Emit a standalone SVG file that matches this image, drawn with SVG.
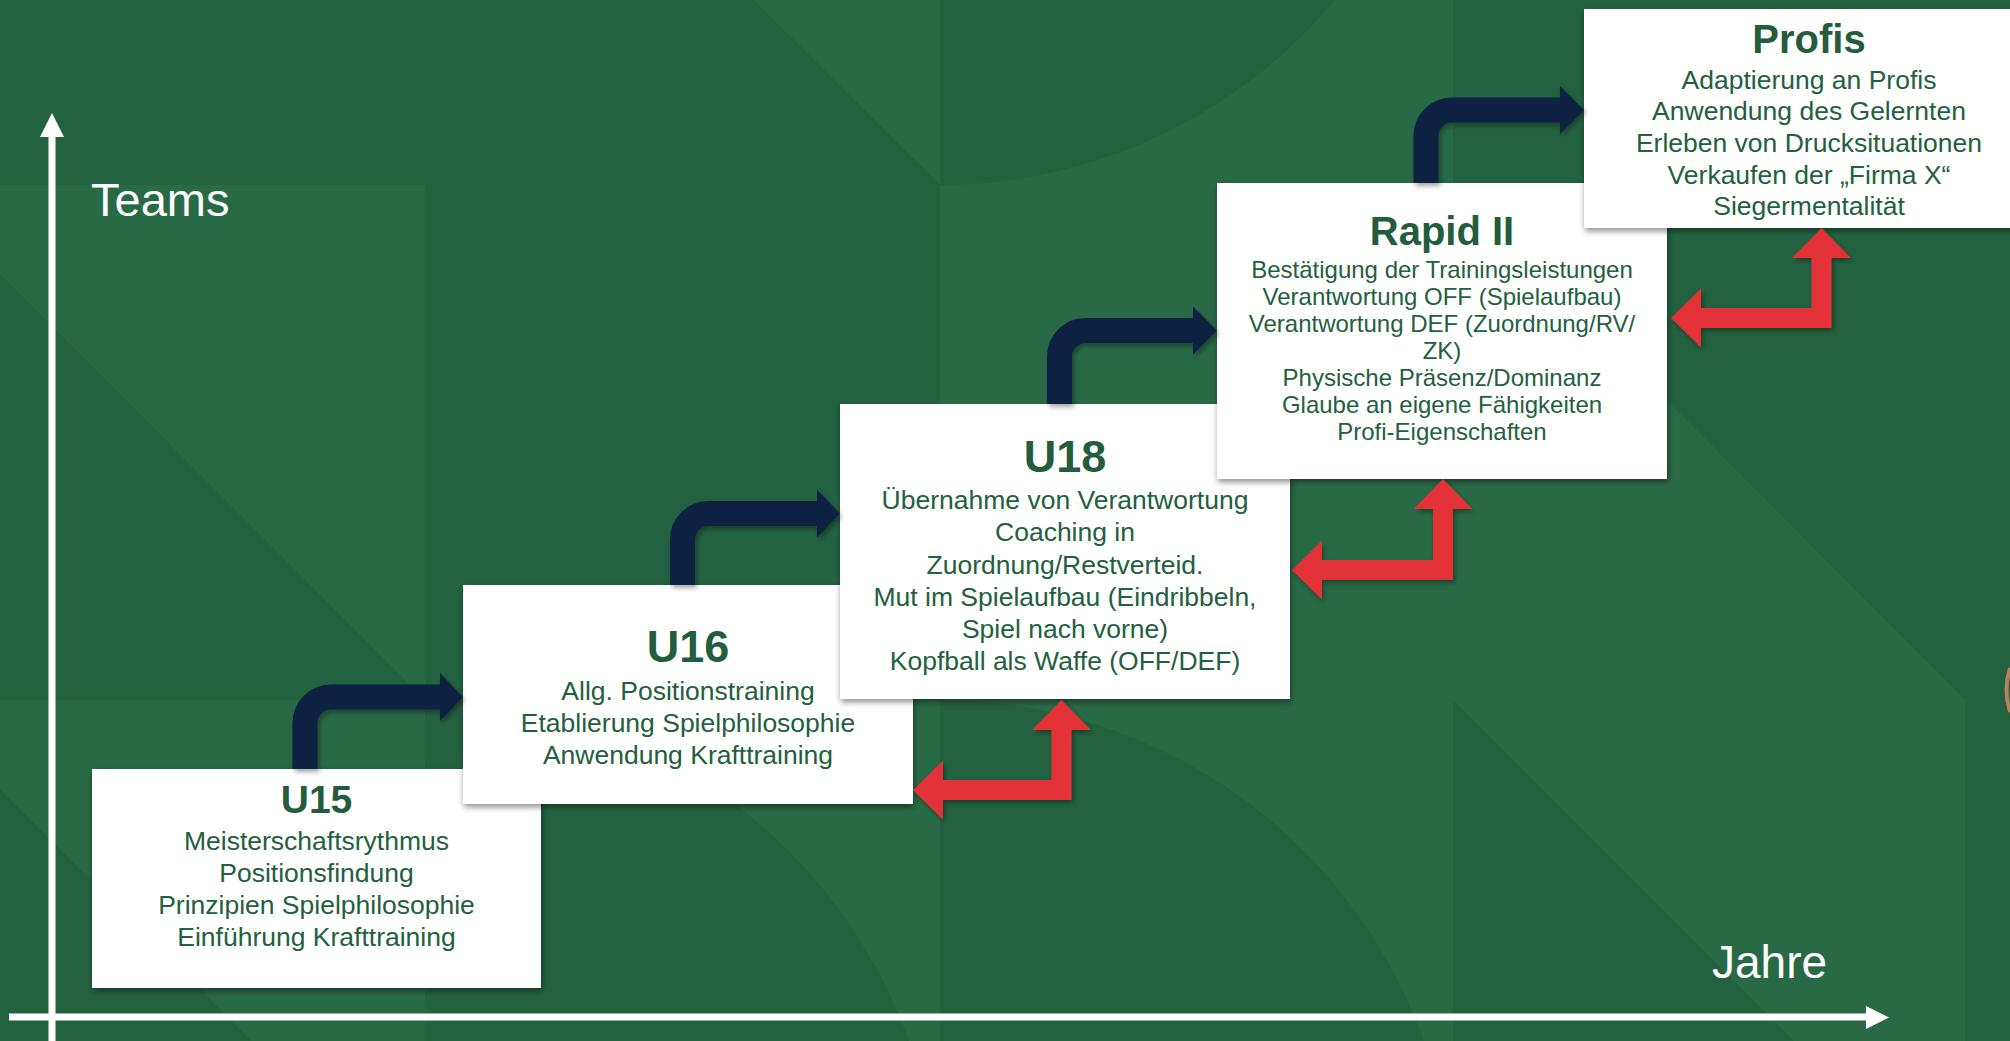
<svg xmlns="http://www.w3.org/2000/svg" width="2010" height="1041" viewBox="0 0 2010 1041">
<defs>
<style>
.bgl{fill:#296a46}
.bgd{fill:#236240}
.box{fill:#ffffff}
.title{font-family:"Liberation Sans",Arial,sans-serif;font-weight:bold;fill:#235d3d;text-anchor:middle}
.body{font-family:"Liberation Sans",Arial,sans-serif;fill:#22603e;text-anchor:middle}
.axis{stroke:#ffffff;stroke-width:7;fill:none}
.axlabel{font-family:"Liberation Sans",Arial,sans-serif;fill:#ffffff;font-size:46px}
.blue{stroke:#0b2343;stroke-width:25;fill:none}
.bluehead{fill:#0b2343}
.red{fill:#e23237}
</style>
<filter id="sh" x="-10%" y="-10%" width="130%" height="130%">
<feDropShadow dx="1" dy="3" stdDeviation="3" flood-color="#000" flood-opacity="0.45"/>
</filter>
<filter id="ash" x="-20%" y="-20%" width="140%" height="140%">
<feDropShadow dx="2" dy="3" stdDeviation="2.5" flood-color="#000" flood-opacity="0.35"/>
</filter>
</defs>
<g id="background">
<rect x="0" y="0" width="2010" height="1041" class="bgl"/>
<rect x="0" y="0" width="425" height="185" class="bgd"/>
<polygon points="425,0 754,0 940,185 425,185" class="bgd"/>
<path d="M940,-329 L1454,-329 A514,514 0 0 1 940,185 Z" class="bgd"/>
<rect x="1453" y="0" width="557" height="185" class="bgd"/>
<polygon points="0,274 0,700 425,700" class="bgd"/>
<rect x="425" y="185" width="515" height="515" class="bgd"/>
<polygon points="1453,185 1965,185 1965,700" class="bgd"/>
<rect x="1965" y="185" width="45" height="856" class="bgd"/>
<polygon points="0,789 0,1041 252,1041" class="bgd"/>
<path d="M425,700 A514,514 0 0 1 939,1214 L425,1214 Z" class="bgd"/>
<path d="M940,700 A514,514 0 0 1 1454,1214 L940,1214 Z" class="bgd"/>
<polygon points="1453,700 1453,1041 1794,1041" class="bgd"/>
<path d="M2010,668 Q2003,690 2010,712" fill="none" stroke="#b8805f" stroke-width="4"/>
</g>
<g id="axes">
<line x1="52" y1="1041" x2="52" y2="134" class="axis"/>
<polygon points="40,137 52,113 64,137" fill="#ffffff"/>
<line x1="9" y1="1017" x2="1868" y2="1017" class="axis"/>
<polygon points="1866,1006 1889,1017.5 1866,1029" fill="#ffffff"/>
<text x="91" y="216" class="axlabel" style="font-size:47px">Teams</text>
<text x="1712" y="978" class="axlabel">Jahre</text>
</g>
<g id="node-u15">
<rect x="92" y="769" width="449" height="219" class="box" filter="url(#sh)"/>
<text x="316.5" y="813" class="title" font-size="39">U15</text>
<text class="body" font-size="26.5"><tspan x="316.5" y="850">Meisterschaftsrythmus</tspan><tspan x="316.5" y="882">Positionsfindung</tspan><tspan x="316.5" y="913.5">Prinzipien Spielphilosophie</tspan><tspan x="316.5" y="945.5">Einführung Krafttraining</tspan></text>
</g>
<g id="node-u16">
<rect x="463" y="585" width="450" height="219" class="box" filter="url(#sh)"/>
<text x="688" y="662" class="title" font-size="45">U16</text>
<text class="body" font-size="26.5"><tspan x="688" y="700">Allg. Positionstraining</tspan><tspan x="688" y="732">Etablierung Spielphilosophie</tspan><tspan x="688" y="763.5">Anwendung Krafttraining</tspan></text>
</g>
<g id="node-u18">
<rect x="840" y="404" width="450" height="295" class="box" filter="url(#sh)"/>
<text x="1065" y="471.5" class="title" font-size="45">U18</text>
<text class="body" font-size="26.5"><tspan x="1065" y="508.5">Übernahme von Verantwortung</tspan><tspan x="1065" y="541">Coaching in</tspan><tspan x="1065" y="573.5">Zuordnung/Restverteid.</tspan><tspan x="1065" y="605.5">Mut im Spielaufbau (Eindribbeln,</tspan><tspan x="1065" y="638">Spiel nach vorne)</tspan><tspan x="1065" y="670">Kopfball als Waffe (OFF/DEF)</tspan></text>
</g>
<g id="node-rapid2">
<rect x="1217" y="183" width="450" height="296" class="box" filter="url(#sh)"/>
<text x="1442" y="245" class="title" font-size="40">Rapid II</text>
<text class="body" font-size="24"><tspan x="1442" y="278">Bestätigung der Trainingsleistungen</tspan><tspan x="1442" y="305">Verantwortung OFF (Spielaufbau)</tspan><tspan x="1442" y="332">Verantwortung DEF (Zuordnung/RV/</tspan><tspan x="1442" y="359">ZK)</tspan><tspan x="1442" y="386">Physische Präsenz/Dominanz</tspan><tspan x="1442" y="413">Glaube an eigene Fähigkeiten</tspan><tspan x="1442" y="440">Profi-Eigenschaften</tspan></text>
</g>
<g id="node-profis">
<rect x="1584" y="9" width="450" height="219" class="box" filter="url(#sh)"/>
<text x="1809" y="53" class="title" font-size="40">Profis</text>
<text class="body" font-size="26.5"><tspan x="1809" y="88.5">Adaptierung an Profis</tspan><tspan x="1809" y="120">Anwendung des Gelernten</tspan><tspan x="1809" y="152">Erleben von Drucksituationen</tspan><tspan x="1809" y="183.5">Verkaufen der „Firma X“</tspan><tspan x="1809" y="215">Siegermentalität</tspan></text>
</g>
<g id="connectors">
<g filter="url(#ash)">
<path d="M305,769 V723 A26,26 0 0 1 331,697 H441" class="blue"/>
<polygon points="440,673 463,697 440,721" class="bluehead"/>
<path d="M682.5,585 V539.5 A26,26 0 0 1 708.5,513.5 H818" class="blue"/>
<polygon points="817,489.5 840,513.5 817,537.5" class="bluehead"/>
<path d="M1059.5,404 V356.5 A26,26 0 0 1 1085.5,330.5 H1194" class="blue"/>
<polygon points="1193,306.5 1217,330.5 1193,354.5" class="bluehead"/>
<path d="M1426,183 V136 A26,26 0 0 1 1452,110 H1561" class="blue"/>
<polygon points="1560,86 1584,110 1560,134" class="bluehead"/>
</g>
<g filter="url(#ash)">
<polygon class="red" points="1061.5,700 1091,730 1071.5,730 1071.5,800 943,800 943,819.5 913,790 943,760.5 943,780 1051.5,780 1051.5,730 1032,730"/>
<polygon class="red" points="1443,479 1472.5,509 1453,509 1453,580 1322,580 1322,599.5 1292,570 1322,540.5 1322,560 1433,560 1433,509 1413.5,509"/>
<polygon class="red" points="1821.5,228 1851,258 1831.5,258 1831.5,328 1701,328 1701,347.5 1671,318 1701,288.5 1701,308 1811.5,308 1811.5,258 1792,258"/>
</g>
</g>
</svg>
